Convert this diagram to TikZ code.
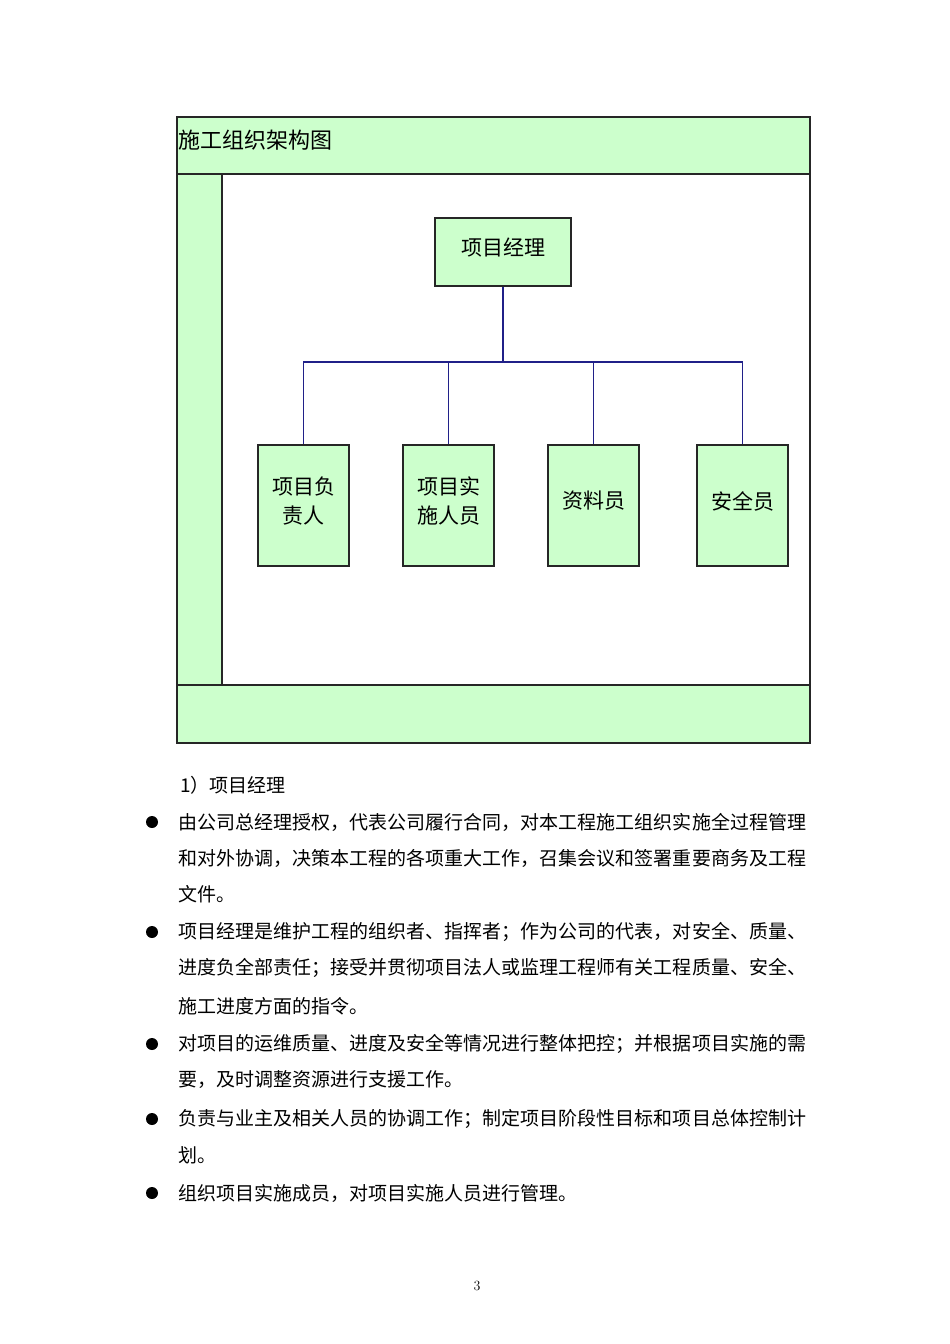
\documentclass[tikz,border=0pt]{standalone}
\usepackage{fontspec}
\newfontfamily\cjk{Noto Sans CJK SC}
\usetikzlibrary{positioning}

\definecolor{boxgreen}{HTML}{CCFFCC}
\definecolor{linkblue}{HTML}{202088}

% one justified line of body text
\newcommand\fullline[1]{\hbox to 628pt{\spreadloop#1\endspread}}
\def\spreadloop#1#2\endspread{#1\ifx\relax#2\relax\else\hfil\spreadloop#2\endspread\fi}
% box labels sit a little above the middle
\newcommand\lift[1]{\raisebox{4.5pt}[\height][\depth]{#1}}

\tikzset{
    greenband/.style={draw=black!85, fill=boxgreen, line width=1.3pt},
    postbox/.style={draw=black!85, fill=boxgreen, line width=1.2pt, inner sep=0pt,
        minimum width=91pt, minimum height=121pt, align=center,
        font=\cjk\fontsize{21}{29}\selectfont},
    link/.style={draw=linkblue, line width=1.2pt},
    bodytext/.style={anchor=west, inner sep=0pt, font=\cjk\fontsize{19}{19}\selectfont},
    bulletdot/.style={circle, fill=black, inner sep=0pt, minimum size=12pt}
}

\begin{document}
\begin{tikzpicture}[x=1pt,y=-1pt]
    \useasboundingbox (0,0) rectangle (950,1344);

    % frame of the chart
    \draw[greenband] (177,117) rectangle (810,174);
    \draw[greenband] (177,174) rectangle (222,685);
    \draw[greenband] (177,685) rectangle (810,743);
    \draw[line width=1.3pt, black!85] (222,174) rectangle (810,685);
    \node[anchor=west, inner sep=0pt, font=\cjk\fontsize{22}{22}\selectfont] (title) at (178,140) {施工组织架构图};

    % posts
    \node[postbox, minimum width=136pt, minimum height=68pt] (pm) at (503,252) {\lift{项目经理}};
    \node[postbox] (lead) at (303.5,505.5) {\lift{项目负}\\\lift{责人}};
    \node[postbox] (staff) at (448.5,505.5) {\lift{项目实}\\\lift{施人员}};
    \node[postbox] (docs) at (593.5,505.5) {\lift{资料员}};
    \node[postbox] (safety) at (742.5,505.5) {\lift{安全员}};

    \coordinate (bus) at (503,362);
    \draw[link] (pm.south) -- (bus);
    \foreach \post in {lead,staff,docs,safety} {
        \draw[link] (bus) -| (\post.north);
    }

    % duties of the manager
    \node[bodytext] (head) at (180,785) {1）项目经理};

    \foreach \n/\y in {1/822, 2/932, 3/1044, 4/1119, 5/1193} {
        \node[bulletdot] (dot\n) at (152,\y) {};
    }

    \node[bodytext] (l1) at (178,822) {\fullline{由公司总经理授权，代表公司履行合同，对本工程施工组织实施全过程管理}};
    \node[bodytext] (l2) at (178,858) {\fullline{和对外协调，决策本工程的各项重大工作，召集会议和签署重要商务及工程}};
    \node[bodytext] (l3) at (178,894) {文件。};

    \node[bodytext] (l4) at (178,932) {\fullline{项目经理是维护工程的组织者、指挥者；作为公司的代表，对安全、质量、}};
    \node[bodytext] (l5) at (178,968) {\fullline{进度负全部责任；接受并贯彻项目法人或监理工程师有关工程质量、安全、}};
    \node[bodytext] (l6) at (178,1006) {施工进度方面的指令。};

    \node[bodytext] (l7) at (178,1044) {\fullline{对项目的运维质量、进度及安全等情况进行整体把控；并根据项目实施的需}};
    \node[bodytext] (l8) at (178,1080) {要，及时调整资源进行支援工作。};

    \node[bodytext] (l9) at (178,1119) {\fullline{负责与业主及相关人员的协调工作；制定项目阶段性目标和项目总体控制计}};
    \node[bodytext] (l10) at (178,1155) {划。};

    \node[bodytext] (l11) at (178,1193) {组织项目实施成员，对项目实施人员进行管理。};

    \node[font=\fontsize{14}{14}\selectfont] (page) at (477,1286) {3};
\end{tikzpicture}
\end{document}
